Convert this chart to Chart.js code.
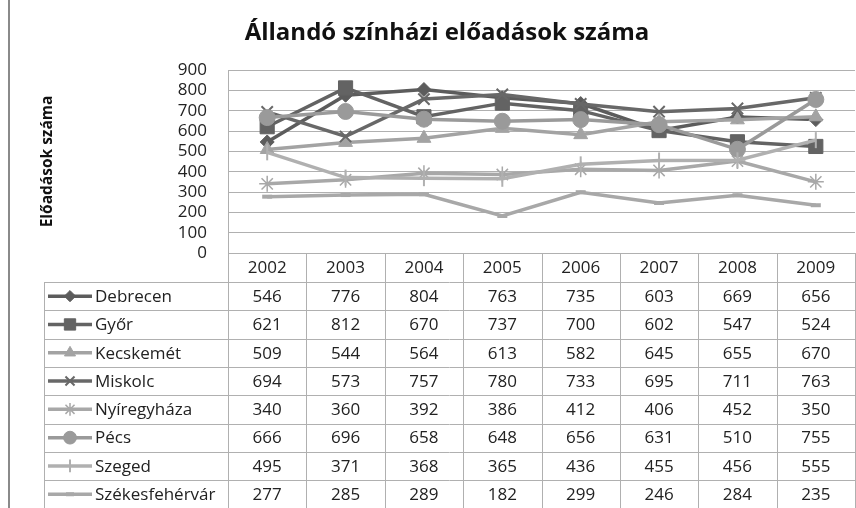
<!DOCTYPE html>
<html>
<head>
<meta charset="utf-8">
<script src="https://cdn.jsdelivr.net/npm/chart.js@4.4.1/dist/chart.umd.min.js"></script>
<style>
  html, body { margin: 0; padding: 0; background: #fff; overflow: hidden; }
  #wrap { position: relative; width: 856px; height: 508px; overflow: hidden; }
  #chart { position: absolute; left: 0; top: 0; }
</style>
</head>
<body>
<div id="wrap"><canvas id="chart" width="866" height="508"></canvas></div>
<script>
// ===== DATA =====
const years = ['2002', '2003', '2004', '2005', '2006', '2007', '2008', '2009'];
const cities = ['Debrecen', 'Győr', 'Kecskemét', 'Miskolc', 'Nyíregyháza', 'Pécs', 'Szeged', 'Székesfehérvár'];
const debrecen      = [546, 776, 804, 763, 735, 603, 669, 656];
const gyor          = [621, 812, 670, 737, 700, 602, 547, 524];
const kecskemet     = [509, 544, 564, 613, 582, 645, 655, 670];
const miskolc       = [694, 573, 757, 780, 733, 695, 711, 763];
const nyiregyhaza   = [340, 360, 392, 386, 412, 406, 452, 350];
const pecs          = [666, 696, 658, 648, 656, 631, 510, 755];
const szeged        = [495, 371, 368, 365, 436, 455, 456, 555];
const szekesfehervar = [277, 285, 289, 182, 299, 246, 284, 235];
const yMax = 900, yStep = 100;

const title = 'Állandó színházi előadások száma';
const yTitle = 'Előadások száma';

const seriesValues = [debrecen, gyor, kecskemet, miskolc, nyiregyhaza, pecs, szeged, szekesfehervar];

// look of each series (excel-ish grey palette)
const styles = [
  { color: '#5c5c5c', point: 'rectRot',  r: 7,  bw: 1,   rot: 0 },
  { color: '#636363', point: 'rect',     r: 10, bw: 1,   rot: 0 },
  { color: '#a3a3a3', point: 'triangle', r: 8,  bw: 1,   rot: 0 },
  { color: '#686868', point: 'crossRot', r: 8,  bw: 2,   rot: 0 },
  { color: '#a8a8a8', point: 'star',     r: 8,  bw: 1.5, rot: 0 },
  { color: '#9a9a9a', point: 'circle',   r: 8,  bw: 1,   rot: 0 },
  { color: '#b0b0b0', point: 'line',     r: 8,  bw: 2,   rot: 90 },
  { color: '#a8a8a8', point: 'line',     r: 5,  bw: 4,   rot: 0 }
];

const FONT = "'Open Sans', 'DejaVu Sans', sans-serif";
const GRID = '#b0b0b0';
const TEXT = '#222';

// ===== TABLE UNDER THE PLOT =====
const tablePlugin = {
  id: 'dataTable',
  afterDraw(chart) {
    const ctx = chart.ctx;
    const x = chart.scales.x;
    const area = chart.chartArea;
    const colW = x.getPixelForValue(1) - x.getPixelForValue(0);
    const headTop = area.bottom;
    const headH = 29, rowH = 28.3;
    const rowsTop = headTop + headH;
    const legLeft = 44;
    const right = area.right;

    ctx.save();
    ctx.strokeStyle = GRID;
    ctx.lineWidth = 1;

    // vertical column lines (header + rows)
    for (let i = 0; i <= years.length; i++) {
      const px = Math.round(x.getPixelForValue(0) - colW / 2 + i * colW) + 0.5;
      ctx.beginPath(); ctx.moveTo(px, headTop); ctx.lineTo(px, rowsTop + rowH * cities.length); ctx.stroke();
    }
    ctx.beginPath(); ctx.moveTo(legLeft + 0.5, rowsTop); ctx.lineTo(legLeft + 0.5, rowsTop + rowH * cities.length); ctx.stroke();

    // horizontal row lines
    for (let r = 0; r <= cities.length; r++) {
      const py = Math.round(rowsTop + r * rowH) + 0.5;
      ctx.beginPath(); ctx.moveTo(legLeft, py); ctx.lineTo(right, py); ctx.stroke();
    }

    // rows: legend swatch, name, values
    ctx.font = '17px ' + FONT;
    ctx.textBaseline = 'middle';
    cities.forEach((name, r) => {
      const cy = rowsTop + r * rowH + rowH / 2;
      const st = styles[r];

      ctx.strokeStyle = st.color;
      ctx.lineWidth = 3.5;
      ctx.beginPath(); ctx.moveTo(48, cy); ctx.lineTo(92, cy); ctx.stroke();
      ctx.fillStyle = st.color;
      ctx.lineWidth = st.bw;
      if (Chart.helpers && Chart.helpers.drawPoint) {
        Chart.helpers.drawPoint(ctx, { pointStyle: st.point, radius: st.r * 0.8, rotation: st.rot, borderWidth: st.bw }, 70, cy);
      }

      ctx.fillStyle = TEXT;
      ctx.textAlign = 'left';
      ctx.fillText(name, 95, cy + 1);

      ctx.textAlign = 'center';
      seriesValues[r].forEach((v, i) => ctx.fillText(String(v), x.getPixelForValue(i), cy + 1));
    });

    // chart title
    ctx.fillStyle = '#111';
    ctx.font = 'bold 24px ' + FONT;
    ctx.textAlign = 'center';
    ctx.fillText(title, 447, 33);

    // left frame line
    ctx.strokeStyle = '#8a8a8a';
    ctx.lineWidth = 2;
    ctx.beginPath(); ctx.moveTo(9, 0); ctx.lineTo(9, 508); ctx.stroke();
    ctx.restore();
  }
};

const datasets = cities.map((name, i) => ({
  label: name,
  data: seriesValues[i],
  borderColor: styles[i].color,
  backgroundColor: styles[i].color,
  borderWidth: 3.5,
  pointStyle: styles[i].point,
  pointRadius: styles[i].r,
  pointRotation: styles[i].rot,
  pointBorderWidth: styles[i].bw,
  pointBorderColor: styles[i].color,
  pointBackgroundColor: styles[i].color,
  tension: 0,
  order: cities.length - i
}));

new Chart(document.getElementById('chart').getContext('2d'), {
  type: 'line',
  data: { labels: years, datasets },
  options: {
    responsive: false,
    animation: false,
    layout: { padding: { top: 70, left: 0, right: 0, bottom: 226 } },
    plugins: {
      legend: { display: false },
      title: { display: false },
      tooltip: { enabled: false }
    },
    scales: {
      x: {
        offset: true,
        grid: { display: false, drawTicks: false },
        border: { display: true, color: GRID, width: 1 },
        ticks: { color: TEXT, font: { family: FONT, size: 17 }, padding: 5, maxRotation: 0, autoSkip: false },
        afterFit(scale) { scale.height = 29; }
      },
      y: {
        min: 0, max: yMax,
        grid: { color: GRID, lineWidth: 1, drawTicks: false },
        border: { display: true, color: GRID, width: 1 },
        ticks: { stepSize: yStep, autoSkip: false, color: TEXT, font: { family: FONT, size: 17 }, padding: 21 },
        title: {
          display: true, text: yTitle, color: '#111',
          font: { family: FONT, size: 15.5, weight: 'bold' },
          padding: { top: 38, bottom: 0 }
        },
        afterFit(scale) { scale.width = 228; }
      }
    }
  },
  plugins: [tablePlugin]
});
</script>
</body>
</html>
